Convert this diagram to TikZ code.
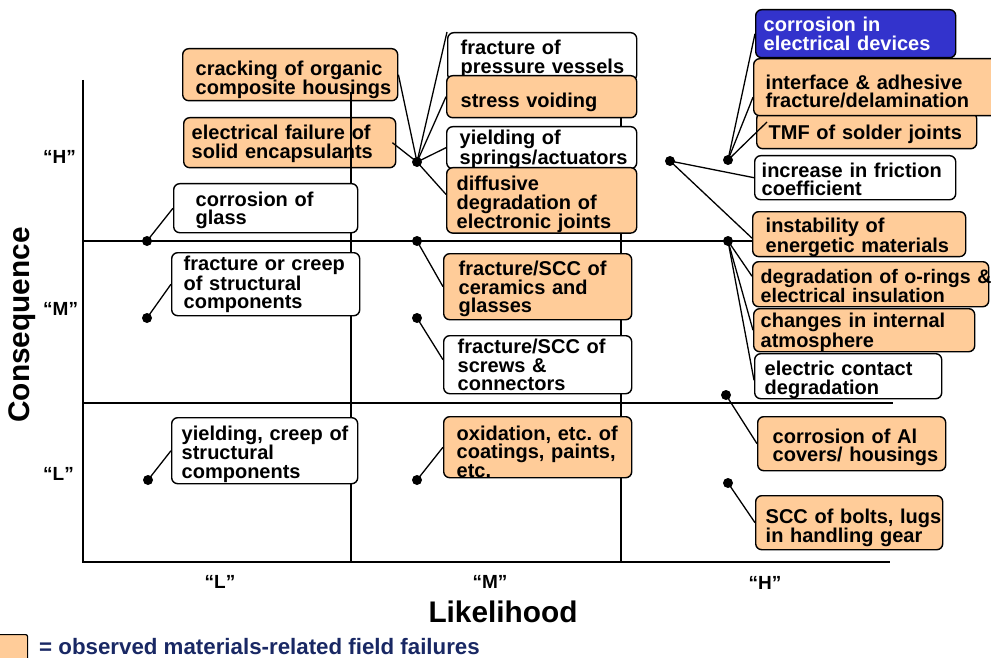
\documentclass[tikz,border=0pt]{standalone}
\usepackage{fontspec}
\setmainfont{Liberation Sans}
\definecolor{peach}{RGB}{255,204,153}
\definecolor{deepblue}{RGB}{51,51,204}
\definecolor{navy}{RGB}{25,40,100}
\begin{document}
\begin{tikzpicture}[x=1pt,y=-1pt,
  cell/.style={draw=black, line width=1.4pt, rounded corners=6pt, anchor=north west,
    inner xsep=0pt, inner ysep=0pt, align=left,
    execute at begin node={\hyphenpenalty=10000\exhyphenpenalty=10000\hbadness=10000\hfuzz=100pt\rule{0pt}{\dimexpr15pt+\celldrop\relax}},
    font=\fontsize{20}{18.5}\selectfont\bfseries},
  hot/.style={cell, fill=peach},
  cold/.style={cell, fill=white},
  drop/.style={/utils/exec={\def\celldrop{#1pt}}},
  sz/.style n args={3}{minimum width=#1pt, minimum height=#2pt,
    /utils/exec={\pgfmathsetmacro\cellw{#1-2*#3}}, text width=\cellw pt},
  blob/.style={circle, fill=black, inner sep=0pt, minimum size=10pt},
  wire/.style={line width=1.3pt},
  rule/.style={line width=2pt},
  ticklabel/.style={font=\fontsize{19}{19}\selectfont\bfseries, inner sep=0pt},
  axistitle/.style={font=\fontsize{29.8}{30}\selectfont\bfseries, inner sep=0pt}
]
\def\celldrop{6pt}
\useasboundingbox (0,0) rectangle (991,658);

% boxes that sit beneath the grid
\node[hot, drop=10, sz={215}{52}{13}] (crack) at (182,48) {cracking~of~organic\\composite~housings};
\node[hot, drop=2, sz={212}{50}{8}] (efail) at (183,117) {electrical~failure~of\\solid~encapsulants};

% axes and grid
\draw[rule] (83,80) -- (83,563);
\draw[rule] (82,562) -- (890,562);
\draw[rule] (351,92) -- (351,562);
\draw[rule] (621,92) -- (621,562);
\draw[rule] (83,241) -- (753,241);
\draw[rule] (83,403) -- (893,403);

% low likelihood column
\node[cold, drop=4, sz={184}{49}{22}] (glass) at (173,183) {corrosion~of\\glass};
\node[cold, drop=0, sz={188}{63}{12}] (creep) at (171,252) {fracture~or~creep\\of~structural\\components};
\node[cold, drop=6, sz={186}{66}{10}] (ycreep) at (171,417) {yielding,~creep~of\\structural\\components};

% medium likelihood column
\node[cold, drop=4, sz={189}{48}{13}] (fpv) at (447,32) {fracture~of\\pressure~vessels};
\node[hot, drop=10, sz={190}{42}{14}] (stress) at (446,75) {stress~voiding};
\node[cold, drop=3, sz={190}{42}{13}] (yspring) at (446,126) {yielding~of\\springs/actuators};
\node[hot, drop=8, sz={190}{65}{10}] (diff) at (446,167) {diffusive\\degradation~of\\electronic~joints};
\node[hot, drop=4, sz={188}{66}{15}] (ceram) at (443,253) {fracture/SCC~of\\ceramics~and\\glasses};
\node[cold, drop=0, sz={188}{58}{14}] (screws) at (443,335) {fracture/SCC~of\\screws~\&\\connectors};
\node[hot, drop=8, sz={188}{61}{13}] (oxid) at (443,416) {oxidation,~etc.~of\\coatings,~paints,\\etc.};

% high likelihood column
\node[cell, fill=deepblue, text=white, drop=0, sz={200}{48}{8}] (elec) at (755,9) {corrosion~in\\electrical~devices};
\node[hot, drop=6, sz={220}{36}{12}] (tmf) at (756,112) {TMF~of~solder~joints};
\node[hot, drop=8, sz={245}{57}{12}] (iface) at (753,58) {interface~\&~adhesive\\fracture/delamination};
\node[cold, drop=3, sz={201}{44}{7}] (fric) at (754,155) {increase~in~friction\\coefficient};
\node[hot, drop=6, sz={213}{44}{13}] (instab) at (752,211) {instability~of\\energetic~materials};
\node[hot, drop=3, sz={236}{45}{8}, font=\fontsize{19.6}{18.5}\selectfont\bfseries] (orings) at (752,261) {degradation~of~o-rings~\&\\electrical~insulation};
\node[hot, drop=4, sz={221}{43}{7}] (atmos) at (753,308) {changes~in~internal\\atmosphere};
\node[cold, drop=7, sz={187}{45}{10}] (contact) at (754,353) {electric~contact\\degradation};
\node[hot, drop=7, sz={188}{54}{15}] (alcov) at (757,416) {corrosion~of~Al\\covers/~housings};
\node[hot, drop=10, sz={187}{54}{10}] (bolts) at (755,495) {SCC~of~bolts,~lugs\\in~handling~gear};

% markers
\node[blob] (dHL) at (147,241) {};
\node[blob] (dML) at (147,318) {};
\node[blob] (dLL) at (148,480) {};
\node[blob] (dHM) at (417,162) {};
\node[blob] (dMMa) at (417,241) {};
\node[blob] (dMM) at (417,318) {};
\node[blob] (dLM) at (417,480) {};
\node[blob] (dHHa) at (670,161) {};
\node[blob] (dHH) at (728,160) {};
\node[blob] (dMH) at (728,241) {};
\node[blob] (dMHb) at (726,395) {};
\node[blob] (dLH) at (728,483) {};

% connectors
\draw[wire] (dHL.center) -- (glass.west);
\draw[wire] (dML.center) -- (creep.west);
\draw[wire] (dLL.center) -- (ycreep.west);
\draw[wire] (dHM.center) -- (crack.east);
\draw[wire] (dHM.center) -- ([xshift=-4pt]efail.east);
\draw[wire] (dHM.center) -- (fpv.north west);
\draw[wire] (dHM.center) -- (stress.west);
\draw[wire] (dHM.center) -- (yspring.west);
\draw[wire] (dHM.center) -- ([yshift=6pt]diff.west);
\draw[wire] (dMMa.center) -- (ceram.west);
\draw[wire] (dMM.center) -- ([yshift=5pt]screws.west);
\draw[wire] (dLM.center) -- (oxid.west);
\draw[wire] (dHHa.center) -- (fric.west);
\draw[wire] (dHHa.center) -- ([yshift=-4pt]instab.west);
\draw[wire] (dHH.center) -- (elec.west);
\draw[wire] (dHH.center) -- ([yshift=-10pt]iface.west);
\draw[wire] (dHH.center) -- ([shift={(11pt,-10pt)}]tmf.north west);
\draw[wire] (dMH.center) -- ([yshift=8pt]orings.west);
\draw[wire] (dMH.center) -- (atmos.west);
\draw[wire] (dMH.center) -- ([yshift=-4pt]contact.west);
\draw[wire] (dMHb.center) -- (alcov.west);
\draw[wire] (dLH.center) -- (bolts.west);

% axis labels
\node[ticklabel, anchor=west] (cH) at (43,157) {“H”};
\node[ticklabel, anchor=west] (cM) at (43,309) {“M”};
\node[ticklabel, anchor=west] (cL) at (43,474) {“L”};
\node[ticklabel] (lL) at (220,582) {“L”};
\node[ticklabel] (lM) at (490,582) {“M”};
\node[ticklabel] (lH) at (765,583) {“H”};
\node[axistitle] (xtitle) at (503,612) {Likelihood};
\node[axistitle, rotate=90] (ytitle) at (22,325) {Consequence};

% legend
\node[draw=black, line width=1.2pt, fill=peach, rounded corners=2pt, anchor=north west,
  minimum width=30pt, minimum height=30pt, inner sep=0pt] (key) at (-3,634) {};
\node[anchor=west, inner sep=0pt, text=navy, font=\fontsize{22.3}{22}\selectfont\bfseries]
  (keytext) at (39,647) {= observed materials-related field failures};
\end{tikzpicture}
\end{document}
